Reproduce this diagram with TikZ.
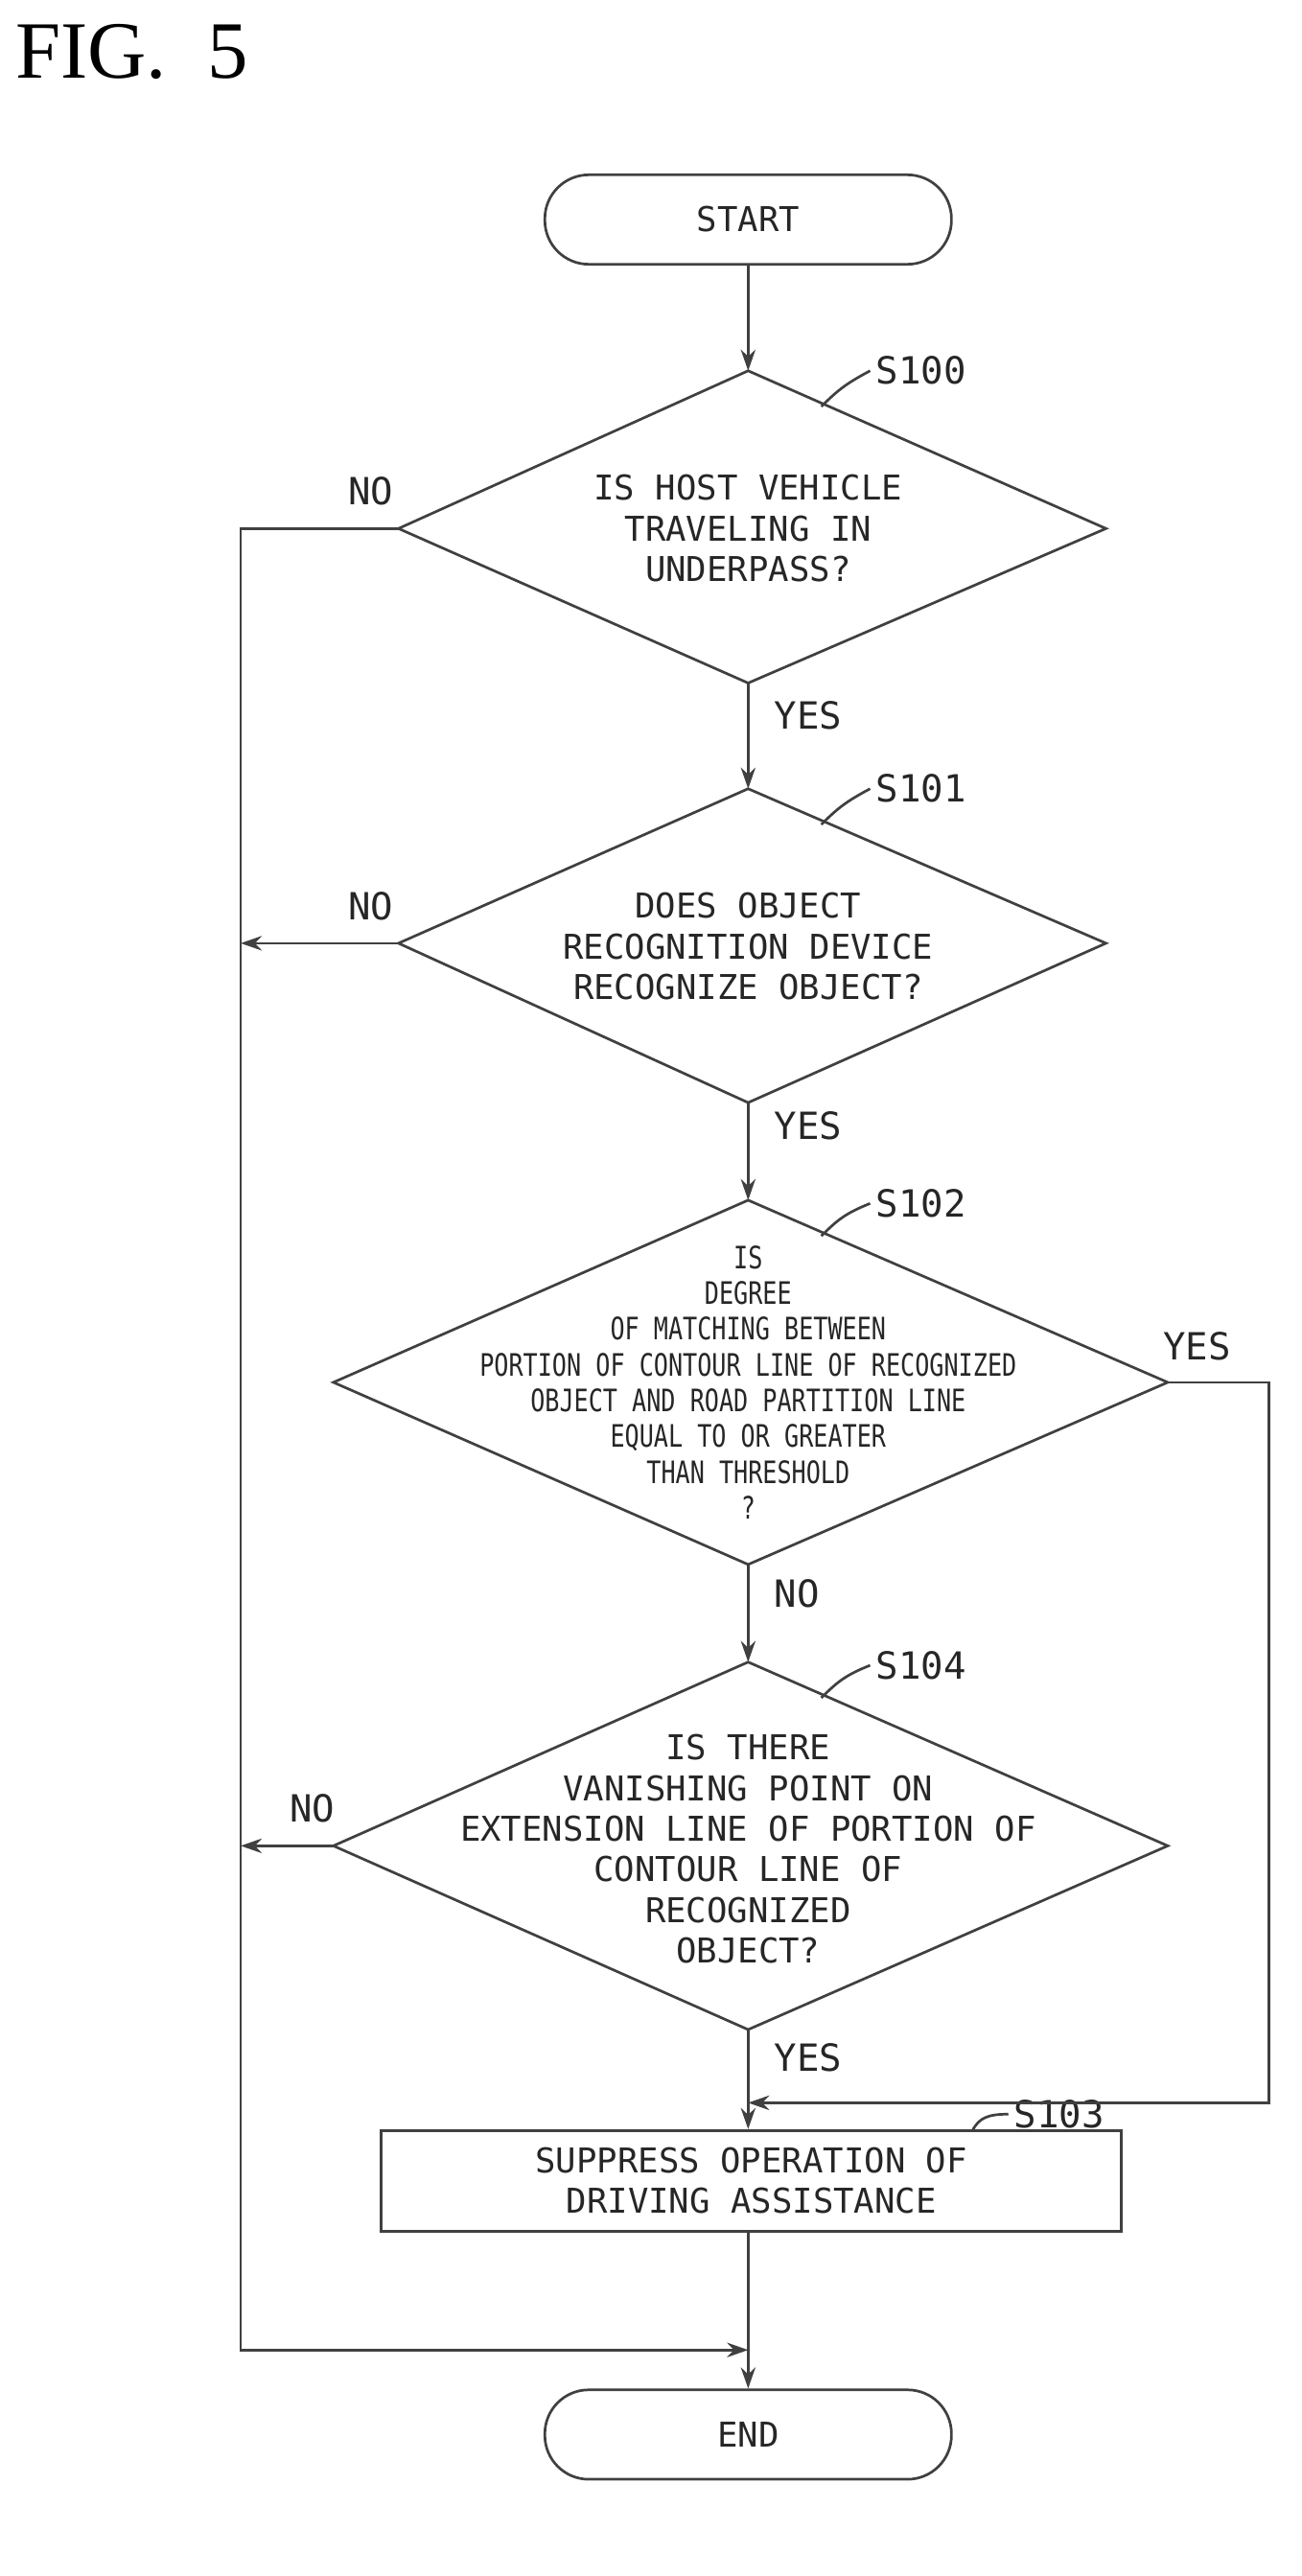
\documentclass[tikz,border=0pt]{standalone}
\usepackage{fontspec}
\setmainfont{Liberation Serif}
\newfontfamily\mono{DejaVu Sans Mono}
\newfontfamily\monon[FakeStretch=0.78]{DejaVu Sans Mono}
\usetikzlibrary{shapes.geometric,arrows.meta}
\begin{document}
\begin{tikzpicture}[x=1pt,y=-1pt,
 line/.style={line width=1.6pt,draw=black!75},
 arr/.style={line,-{Stealth[length=13pt,width=9pt]}},
 txt/.style={font=\mono\fontsize{21}{25}\selectfont,align=center,text=black!85},
 small/.style={font=\monon\fontsize{19}{22}\selectfont,align=center,text=black!85},
 lbl/.style={font=\mono\fontsize{23}{26}\selectfont,text=black!85},
 term/.style={line,rounded corners=27pt,minimum width=250pt,minimum height=55pt,txt}]
\useasboundingbox (0,0) rectangle (800,1584);
\node[anchor=west,font=\fontsize{50}{56}\selectfont] (fig) at (6,32) {FIG.\ \ 5};
\node[term,draw] (start) at (460,135) {START};
\coordinate (d0t) at (460,228); \coordinate (d0b) at (460,420);
\coordinate (d0l) at (245,325); \coordinate (d0r) at (680,325);
\draw[line] (d0t)--(d0r)--(d0b)--(d0l)--cycle;
\node[txt] (t0) at (460,325) {IS HOST VEHICLE\\TRAVELING IN\\UNDERPASS?};
\coordinate (d1t) at (460,485); \coordinate (d1b) at (460,678);
\coordinate (d1l) at (245,580); \coordinate (d1r) at (680,580);
\draw[line] (d1t)--(d1r)--(d1b)--(d1l)--cycle;
\node[txt] (t1) at (460,582) {DOES OBJECT\\RECOGNITION DEVICE\\RECOGNIZE OBJECT?};
\coordinate (d2t) at (460,738); \coordinate (d2b) at (460,962);
\coordinate (d2l) at (205,850); \coordinate (d2r) at (718,850);
\draw[line] (d2t)--(d2r)--(d2b)--(d2l)--cycle;
\node[small] (t2) at (460,850) {IS\\DEGREE\\OF MATCHING BETWEEN\\PORTION OF CONTOUR LINE OF RECOGNIZED\\OBJECT AND ROAD PARTITION LINE\\EQUAL TO OR GREATER\\THAN THRESHOLD\\?};
\coordinate (d4t) at (460,1022); \coordinate (d4b) at (460,1248);
\coordinate (d4l) at (205,1135); \coordinate (d4r) at (718,1135);
\draw[line] (d4t)--(d4r)--(d4b)--(d4l)--cycle;
\node[txt] (t4) at (460,1137) {IS THERE\\VANISHING POINT ON\\EXTENSION LINE OF PORTION OF\\CONTOUR LINE OF\\RECOGNIZED\\OBJECT?};
\node[line,draw,minimum width=455pt,minimum height=62pt,txt] (s103) at (462,1341) {SUPPRESS OPERATION OF\\DRIVING ASSISTANCE};
\node[term,draw] (end) at (460,1497) {END};
% step labels
\node[lbl,anchor=west] (l0) at (535,228) {S100};
\node[lbl,anchor=west] (l1) at (535,485) {S101};
\node[lbl,anchor=west] (l2) at (535,740) {S102};
\node[lbl,anchor=west] (l4) at (535,1024) {S104};
\node[lbl,anchor=west] (l3) at (620,1300) {S103};
\draw[line] (505,250) .. controls (515,240) and (520,236) .. (l0.west);
\draw[line] (505,507) .. controls (515,497) and (520,493) .. (l1.west);
\draw[line] (505,760) .. controls (515,750) and (520,746) .. (l2.west);
\draw[line] (505,1044) .. controls (515,1034) and (520,1030) .. (l4.west);
\draw[line] (598,1310) .. controls (602,1302) and (608,1300) .. (l3.west);
% yes/no
\node[lbl] (n0) at (228,302) {NO};
\node[lbl] (y0) at (497,440) {YES};
\node[lbl] (n1) at (228,557) {NO};
\node[lbl] (y1) at (497,692) {YES};
\node[lbl] (y2) at (736,828) {YES};
\node[lbl] (n2) at (490,980) {NO};
\node[lbl] (n4) at (192,1112) {NO};
\node[lbl] (y4) at (497,1265) {YES};
% flow
\coordinate (lx) at (148,1445);
\coordinate (mj) at (460,1445);
\coordinate (yj) at (460,1293);
\draw[arr] (start) -- (d0t);
\draw[arr] (d0b) -- (d1t);
\draw[arr] (d1b) -- (d2t);
\draw[arr] (d2b) -- (d4t);
\draw[arr] (d4b) -- (s103.north -| d4b);
\draw[line] (s103.south -| d4b) -- (mj);
\draw[arr] (mj) -- (end);
\draw[arr] (d0l) -- (148,325) -- (lx) -- (mj);
\draw[arr] (d1l) -- (148,580);
\draw[arr] (d4l) -- (148,1135);
\draw[arr] (d2r) -- (780,850) -- (780,1293) -- (yj);
\end{tikzpicture}
\end{document}
